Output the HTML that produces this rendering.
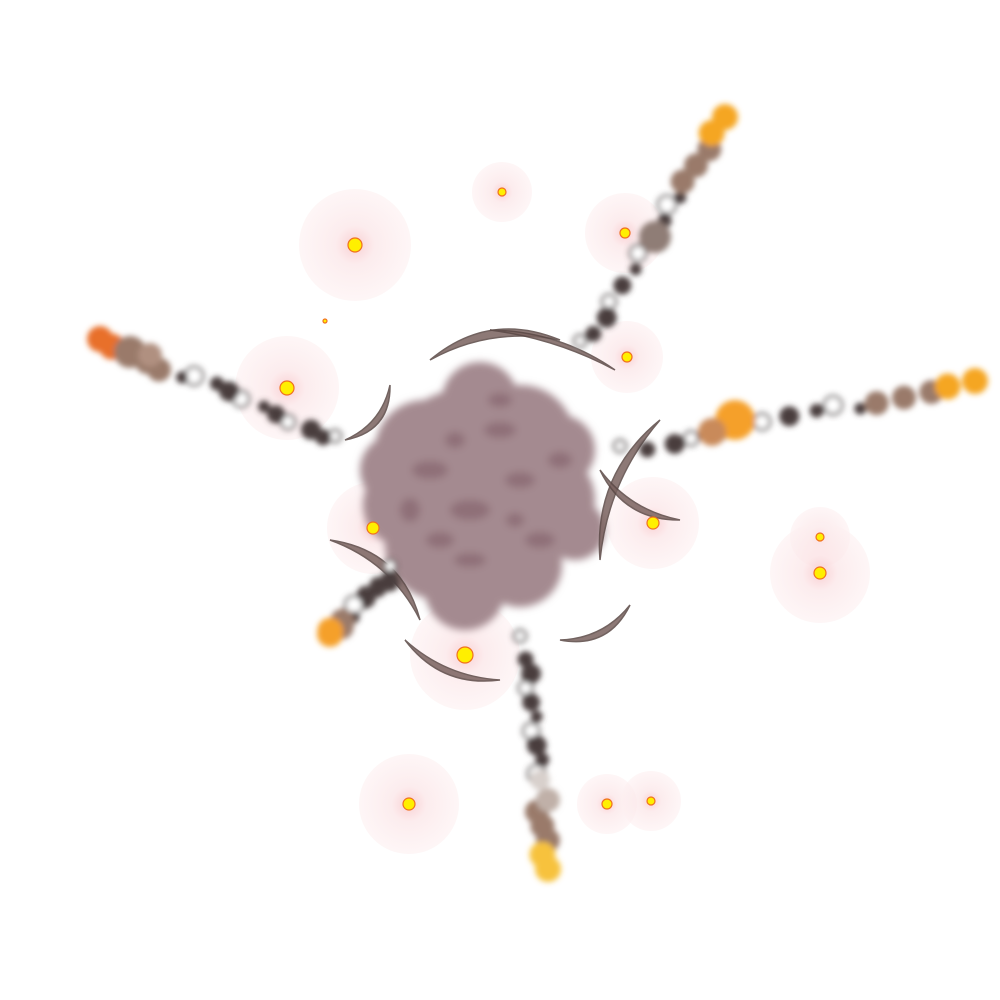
<!DOCTYPE html>
<html>
<head>
<meta charset="utf-8">
<style>
  html,body{margin:0;padding:0;background:#fff;width:1000px;height:1000px;overflow:hidden;}
  svg{display:block;}
</style>
</head>
<body>
<svg id="scene" width="1000" height="1000" viewBox="0 0 1000 1000" xmlns="http://www.w3.org/2000/svg">
  <defs>
    <radialGradient id="glow">
      <stop offset="0" stop-color="#f7c4c8" stop-opacity="0.8"/>
      <stop offset="0.35" stop-color="#fbe4e6" stop-opacity="0.7"/>
      <stop offset="1" stop-color="#fdf0f1" stop-opacity="0.6"/>
    </radialGradient>
    <filter id="blur4"><feGaussianBlur stdDeviation="4"/></filter>
    <filter id="blur3"><feGaussianBlur stdDeviation="3"/></filter>
    <filter id="blur8"><feGaussianBlur stdDeviation="6"/></filter>
  </defs>
  <g id="glows"></g>
  <g id="cloud" filter="url(#blur4)"></g>
  <g id="swirls"></g>
  <g id="debris" filter="url(#blur3)"></g>
  <g id="sparks"></g>
</svg>
<script>
const glowX = [355,502,625,287,627,373,653,465,820,820,409,607,651,325];
const glowY = [245,192,233,388,357,528,523,655,537,573,804,804,801,321];
const glowR = [56,30,40,52,36,46,46,55,30,50,50,30,30,0];
const dotR  = [7,4,5,7,5,6,6,8,4,6,6,5,4,2];

const trailX0 = [585,340,625,525,395];
const trailY0 = [345,440,450,640,570];
const trailX1 = [725,100,975,548,330];
const trailY1 = [118,340,382,870,635];
const trailTip = ['#f5a623','#e8702a','#f5a623','#f7c23c','#f5a02a'];

const arcX0=[430,345,660,560,405,330,490,600];
const arcY0=[360,440,420,640,640,540,330,470];
const arcX1=[560,390,600,630,500,420,615,680];
const arcY1=[340,385,560,605,680,620,370,520];
const arcBend=[-40,30,40,30,30,-40,-20,30];

const NS='http://www.w3.org/2000/svg';
function mk(tag,attrs,parent){const e=document.createElementNS(NS,tag);for(const k in attrs)e.setAttribute(k,attrs[k]);parent.appendChild(e);return e;}

const gG=document.getElementById('glows'), gS=document.getElementById('sparks');
for(let i=0;i<glowX.length;i++){
  if(glowR[i]>0){
    const c=mk('circle',{cx:glowX[i],cy:glowY[i],r:glowR[i],fill:'url(#glow)'},gG);
    
    
  }
  const d=mk('circle',{cx:glowX[i],cy:glowY[i],r:dotR[i],fill:'#ffef00',stroke:'#f07020','stroke-width':1.2},gS);
  
  
}

const gC=document.getElementById('cloud');
const blobs=[[470,480,92],[425,450,50],[520,440,55],[500,520,65],[440,545,55],[405,505,42],[545,500,50],[480,400,38],[520,565,42],[465,590,40],[560,450,35],[395,470,35],[575,530,30]];
blobs.forEach(b=>{const e=mk('circle',{cx:b[0],cy:b[1],r:b[2],fill:'#a48a90'},gC);});
const spots=[[430,470,18,9],[500,430,16,8],[470,510,20,10],[520,480,15,8],[440,540,14,8],[540,540,15,8],[470,560,16,7],[500,400,12,7],[410,510,10,12],[560,460,12,8],[455,440,10,8],[515,520,9,7]];
spots.forEach(s=>{const e=mk('ellipse',{cx:s[0],cy:s[1],rx:s[2],ry:s[3],fill:'#8f7078'},gC);});

const gW=document.getElementById('swirls');
for(let i=0;i<arcX0.length;i++){
  const mx=(arcX0[i]+arcX1[i])/2, my=(arcY0[i]+arcY1[i])/2;
  const dx=arcX1[i]-arcX0[i], dy=arcY1[i]-arcY0[i], L=Math.hypot(dx,dy);
  const nx=-dy/L*arcBend[i], ny=dx/L*arcBend[i];
  const p=mk('path',{d:`M${arcX0[i]},${arcY0[i]} Q${mx+nx},${my+ny} ${arcX1[i]},${arcY1[i]} Q${mx+nx*0.6},${my+ny*0.6} ${arcX0[i]},${arcY0[i]} Z`,fill:'#7a625f',stroke:'#5a4845','stroke-width':1.5,opacity:0.85},gW);
  
  
}

const gD=document.getElementById('debris');
for(let t=0;t<trailX0.length;t++){
  const n=16;
  for(let k=0;k<n;k++){
    const f=k/(n-1);
    const x=trailX0[t]+(trailX1[t]-trailX0[t])*f + ((k*37)%11-5);
    const y=trailY0[t]+(trailY1[t]-trailY0[t])*f + ((k*53)%9-4);
    let col, r;
    if(f>0.9){col=trailTip[t]; r=13;}
    else if(f>0.7){col='#9a7a6a'; r=12;}
    else {col=(k%3==0)?'#ffffff':'#4a3e3c'; r=6+((k*7)%5);}
    const c=mk('circle',{cx:x,cy:y,r:r,fill:col,stroke:'#4a3e3c','stroke-width':col=='#ffffff'?2.5:0},gD);
    
    
  }
}
// extra clusters
const extra=[[735,420,20,'#f5a02a'],[712,432,14,'#c98a5a'],[655,237,16,'#8f7d76'],[130,352,16,'#9a7a6a'],[150,355,12,'#b09080'],[548,800,12,'#c0b0a8'],[540,780,10,'#d8d0cc']];
extra.forEach(e=>{const c=mk('circle',{cx:e[0],cy:e[1],r:e[2],fill:e[3]},gD);});
</script>
</body>
</html>
